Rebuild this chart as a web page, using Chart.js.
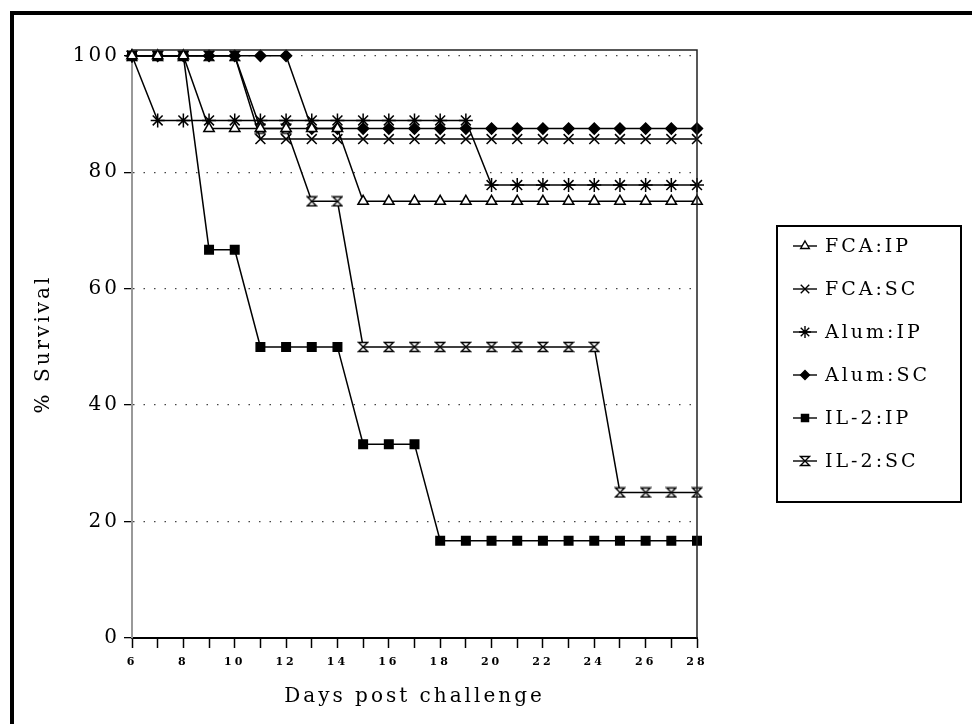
<!DOCTYPE html>
<html>
<head>
<meta charset="utf-8">
<script src="https://cdn.jsdelivr.net/npm/chart.js@4/dist/chart.umd.min.js"></script>
<style>
    body { margin: 0; background: #fff; overflow: hidden; }
    #wrap { position: relative; width: 972px; height: 724px; }
    #frame {
        position: absolute; left: 10px; top: 11px; width: 1000px; height: 800px;
        border-left: 4px solid #000; border-top: 4px solid #000;
    }
    canvas { position: absolute; left: 0; top: 0; }
</style>
</head>
<body>
<div id="wrap">
    <div id="frame"></div>
    <canvas id="myChart" width="972" height="724"></canvas>
</div>
<script>
const days = [6, 7, 8, 9, 10, 11, 12, 13, 14, 15, 16, 17, 18, 19, 20, 21, 22, 23, 24, 25, 26, 27, 28];

const fcaIp = [100, 100, 100, 87.5, 87.5, 87.5, 87.5, 87.5, 87.5, 75, 75, 75, 75, 75, 75, 75, 75, 75, 75, 75, 75, 75, 75];
const fcaSc = [100, 100, 100, 100, 100, 85.7, 85.7, 85.7, 85.7, 85.7, 85.7, 85.7, 85.7, 85.7, 85.7, 85.7, 85.7, 85.7, 85.7, 85.7, 85.7, 85.7, 85.7];
const alumIp = [100, 88.9, 88.9, 88.9, 88.9, 88.9, 88.9, 88.9, 88.9, 88.9, 88.9, 88.9, 88.9, 88.9, 77.8, 77.8, 77.8, 77.8, 77.8, 77.8, 77.8, 77.8, 77.8];
const alumSc = [100, 100, 100, 100, 100, 100, 100, 87.5, 87.5, 87.5, 87.5, 87.5, 87.5, 87.5, 87.5, 87.5, 87.5, 87.5, 87.5, 87.5, 87.5, 87.5, 87.5];
const il2Ip = [100, 100, 100, 66.7, 66.7, 50, 50, 50, 50, 33.3, 33.3, 33.3, 16.7, 16.7, 16.7, 16.7, 16.7, 16.7, 16.7, 16.7, 16.7, 16.7, 16.7];
const il2Sc = [100, 100, 100, 100, 100, 87.5, 87.5, 75, 75, 50, 50, 50, 50, 50, 50, 50, 50, 50, 50, 25, 25, 25, 25];

const seriesNames = ['FCA:IP', 'FCA:SC', 'Alum:IP', 'Alum:SC', 'IL-2:IP', 'IL-2:SC'];

const FONT = '"DejaVu Serif", "Liberation Serif", serif';

// hourglass marker for IL-2:SC
function makeHourglass() {
    const c = document.createElement('canvas');
    c.width = 12;
    c.height = 12;
    const g = c.getContext('2d');
    g.beginPath();
    g.moveTo(1.5, 1.5);
    g.lineTo(10.5, 1.5);
    g.lineTo(1.5, 10.5);
    g.lineTo(10.5, 10.5);
    g.closePath();
    g.fillStyle = '#fff';
    g.fill();
    g.lineWidth = 1.3;
    g.strokeStyle = '#000';
    g.stroke();
    return c;
}
const hourglass = makeHourglass();

const markers = [
    { pointStyle: 'triangle', radius: 6, bg: '#fff' },
    { pointStyle: 'crossRot', radius: 7, bg: '#000' },
    { pointStyle: 'star', radius: 7, bg: '#000' },
    { pointStyle: 'rectRot', radius: 5.5, bg: '#000' },
    { pointStyle: 'rect', radius: 6, bg: '#000' },
    { pointStyle: hourglass, radius: 6, bg: '#fff' },
];

const allValues = [fcaIp, fcaSc, alumIp, alumSc, il2Ip, il2Sc];

const datasets = allValues.map((vals, i) => {
    return {
        label: seriesNames[i],
        data: days.map((d, j) => ({ x: d, y: vals[j] })),
        borderColor: '#000',
        borderWidth: 1.5,
        backgroundColor: markers[i].bg,
        pointStyle: markers[i].pointStyle,
        pointRadius: markers[i].radius,
        pointBorderColor: '#000',
        pointBackgroundColor: markers[i].bg,
        pointBorderWidth: 1.5,
        tension: 0,
        clip: false,
    };
});

// letter spacing like the old typed figure
const spacingPlugin = {
    id: 'spacing',
    beforeUpdate(chart) { chart.ctx.letterSpacing = '3px'; },
    beforeDraw(chart) { chart.ctx.letterSpacing = '3px'; },
};

// top and right edge of the plot box + boxed legend
const framePlugin = {
    id: 'frameAndLegend',
    afterDraw(chart) {
        const ctx = chart.ctx;
        const a = chart.chartArea;
        ctx.save();
        ctx.strokeStyle = '#222';
        ctx.lineWidth = 1.5;
        ctx.beginPath();
        ctx.moveTo(a.left, a.top);
        ctx.lineTo(a.right, a.top);
        ctx.lineTo(a.right, a.bottom);
        ctx.stroke();

        // legend
        const box = { left: 777, top: 226, right: 961, bottom: 502 };
        ctx.lineWidth = 2;
        ctx.strokeStyle = '#000';
        ctx.strokeRect(box.left, box.top, box.right - box.left, box.bottom - box.top);

        ctx.font = '19px ' + FONT;
        ctx.textBaseline = 'middle';
        ctx.textAlign = 'left';
        chart.data.datasets.forEach((ds, i) => {
            const y = 246 + i * 43;
            ctx.strokeStyle = '#000';
            ctx.lineWidth = 1.4;
            ctx.beginPath();
            ctx.moveTo(793, y);
            ctx.lineTo(817, y);
            ctx.stroke();
            ctx.fillStyle = ds.pointBackgroundColor;
            Chart.helpers.drawPoint(ctx, {
                pointStyle: ds.pointStyle,
                radius: ds.pointRadius - 1,
                borderWidth: 1.4,
                rotation: 0,
            }, 805, y);
            ctx.fillStyle = '#000';
            ctx.fillText(ds.label, 825, y + 1);
        });
        ctx.restore();
    },
};

const ctx = document.getElementById('myChart').getContext('2d');
const chart = new Chart(ctx, {
    type: 'line',
    data: { datasets: datasets },
    options: {
        responsive: false,
        animation: false,
        events: [],
        layout: { padding: { left: 0, top: 50, right: 275, bottom: 0 } },
        plugins: {
            legend: { display: false },
            tooltip: { enabled: false },
        },
        scales: {
            x: {
                type: 'linear',
                min: 6,
                max: 28,
                afterFit: (scale) => { scale.height = 86; },
                ticks: {
                    stepSize: 1,
                    autoSkip: false,
                    maxRotation: 0,
                    padding: 8,
                    color: '#000',
                    font: { family: FONT, size: 11, weight: 'bold' },
                    callback: (v) => (v % 2 === 0 ? v : ''),
                },
                grid: {
                    drawOnChartArea: false,
                    tickLength: 10,
                    tickColor: '#000',
                    tickWidth: 1.5,
                },
                border: { color: '#000', width: 2 },
                title: {
                    display: true,
                    text: 'Days post challenge',
                    color: '#000',
                    font: { family: FONT, size: 20 },
                    padding: { top: 0, bottom: 15 },
                },
            },
            y: {
                min: 0,
                max: 101,
                afterFit: (scale) => { scale.width = 132; },
                ticks: {
                    stepSize: 20,
                    includeBounds: false,
                    padding: 4,
                    color: '#000',
                    font: { family: FONT, size: 20 },
                },
                grid: {
                    color: (c) => (c.tick && c.tick.value === 0 ? 'rgba(0,0,0,0)' : '#444'),
                    lineWidth: 1.3,
                    tickLength: 8,
                    tickColor: '#000',
                    tickBorderDash: [],
                },
                border: { color: '#999', width: 2, dash: [1.5, 9] },
                title: {
                    display: true,
                    text: '% Survival',
                    color: '#000',
                    font: { family: FONT, size: 20 },
                    padding: { top: 32, bottom: 0 },
                },
            },
        },
    },
    plugins: [spacingPlugin, framePlugin],
});
</script>
</body>
</html>
